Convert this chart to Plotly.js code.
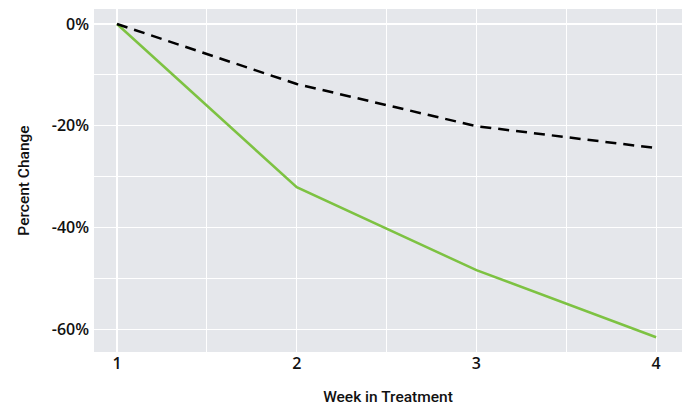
<!DOCTYPE html>
<html>
<head>
<meta charset="utf-8">
<script src="https://cdn.plot.ly/plotly-3.0.1.min.js"></script>
<style>html,body{margin:0;padding:0;background:#fff;}#chart{width:693px;height:407px;}</style>
</head>
<body>
<div id="chart"></div>
<script>
const weeks = [1, 2, 3, 4];
const greenSeries = [0, -32.1, -48.4, -61.6];
const dashedSeries = [0, -11.8, -20.1, -24.4];
const xTickVals = [1, 2, 3, 4];
const xTickText = ['1', '2', '3', '4'];
const yTickVals = [0, -20, -40, -60];
const yTickText = ['0%', '-20%', '-40%', '-60%'];

const traces = [
  {x: weeks, y: greenSeries, mode: 'lines', line: {color: '#7dc242', width: 2.5}, hoverinfo: 'skip'},
  {x: weeks, y: dashedSeries, mode: 'lines', line: {color: '#000000', width: 2.5, dash: '11px,7px'}, hoverinfo: 'skip'}
];

const tickFont = {family: 'Open Sans, sans-serif', size: 16, color: '#111', weight: 600};
const titleFont = {family: 'Roboto, sans-serif', size: 15.5, color: '#111', weight: 500};

const layout = {
  width: 693, height: 407,
  margin: {l: 94, r: 11, t: 9, b: 55},
  paper_bgcolor: '#ffffff',
  plot_bgcolor: '#e5e7eb',
  showlegend: false,
  xaxis: {
    range: [0.872, 4.144],
    tickmode: 'array', tickvals: xTickVals, ticktext: xTickText,
    showgrid: true, gridcolor: '#ffffff', gridwidth: 1.2,
    minor: {tickmode: 'linear', tick0: 0.5, dtick: 0.5, showgrid: true, gridcolor: '#ffffff', gridwidth: 1.2},
    zeroline: false, showline: false, ticks: '',
    tickfont: tickFont, ticklabelstandoff: 0,
    title: {text: 'Week in Treatment', font: titleFont, standoff: 18}
  },
  yaxis: {
    range: [-64.5, 2.95],
    tickmode: 'array', tickvals: yTickVals, ticktext: yTickText,
    showgrid: true, gridcolor: '#ffffff', gridwidth: 1.2,
    minor: {tickmode: 'linear', tick0: 0, dtick: 10, showgrid: true, gridcolor: '#ffffff', gridwidth: 1.2},
    zeroline: false, showline: false, ticks: '',
    tickfont: tickFont, ticklabelstandoff: 4,
    title: {text: 'Percent Change', font: titleFont, standoff: 18}
  }
};

Plotly.newPlot('chart', traces, layout, {displayModeBar: false, staticPlot: true});
</script>
</body>
</html>
